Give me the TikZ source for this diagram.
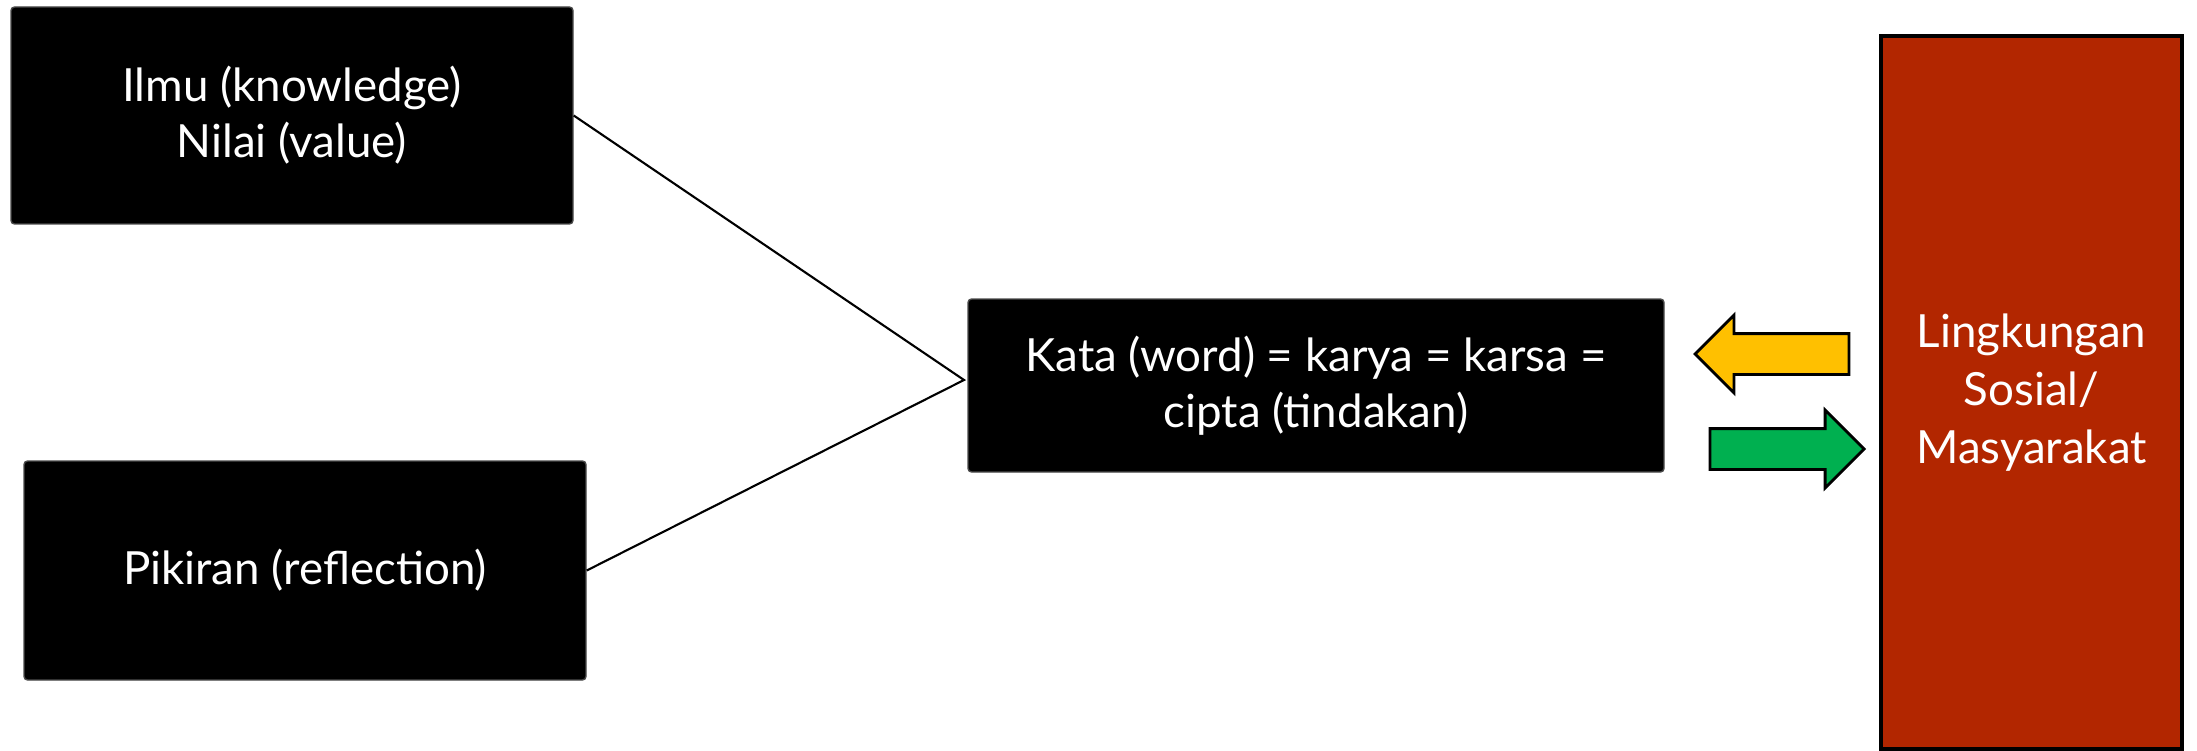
\documentclass[tikz,border=0pt]{standalone}
\usepackage{fontspec}
\setmainfont{Lato}
\usepackage{xcolor}
\definecolor{SocRed}{HTML}{B22600}
\definecolor{ArrYellow}{HTML}{FFC000}
\definecolor{ArrGreen}{HTML}{00B050}
\usepackage{tikz}
\usetikzlibrary{positioning,shapes.arrows}
\tikzset{
  kbnode/.style={draw=black!70, fill=black, text=white, rounded corners=1pt, align=center,
                 font=\fontsize{13}{16}\selectfont, inner sep=0pt},
  socnode/.style={draw=black, line width=1pt, fill=SocRed, text=white, align=center,
                 font=\fontsize{13}{16.5}\selectfont, inner sep=0pt},
  kbline/.style={line width=0.6pt, black},
  blockarr/.style={single arrow, draw=black, line width=0.8pt, inner xsep=0pt, inner ysep=0.19cm,
                 single arrow head extend=0.185cm, minimum height=1.54cm, anchor=tip}
}
\begin{document}
\begin{tikzpicture}
\useasboundingbox (0,0) rectangle (21.97,7.5);
\node[kbnode, minimum width=5.62cm, minimum height=2.17cm] (ilmu) at (2.92,6.345) {Ilmu (knowledge)\\Nilai (value)};
\node[kbnode, minimum width=5.62cm, minimum height=2.19cm] (pikiran) at (3.05,1.795) {Pikiran (reflection)};
\node[kbnode, minimum width=6.96cm, minimum height=1.73cm] (kata) at (13.16,3.645) {Kata (word) = karya = karsa =\\cipta (tindakan)};
\node[socnode, minimum width=3.01cm, minimum height=7.13cm] (sosial) at (20.315,3.575) {Lingkungan\\Sosial/\\Masyarakat};
\coordinate (meet) at (9.64,3.70);
\draw[kbline] (ilmu.east) -- (meet) -- (pikiran.east);
% arrows between action and society
\node[blockarr, fill=ArrYellow, shape border rotate=180] (fromsos) at (16.93,3.96) {};
\node[blockarr, fill=ArrGreen] (tosos) at (18.66,3.01) {};
\end{tikzpicture}
\end{document}
